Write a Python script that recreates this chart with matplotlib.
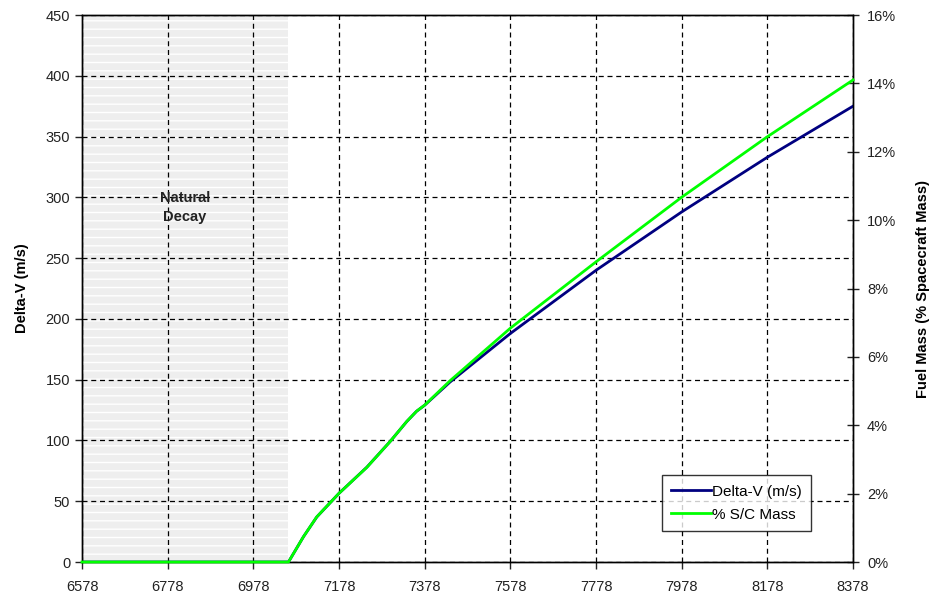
import matplotlib.pyplot as plt
import matplotlib.ticker as mticker

plt.rcParams['font.family'] = ['Liberation Sans', 'DejaVu Sans']
plt.rcParams['hatch.color'] = 'white'
plt.rcParams['hatch.linewidth'] = 1.0

# orbit altitude / radius (km) and required delta-V
radius = [6578, 6778, 6978, 7060, 7095, 7126, 7178, 7243, 7297, 7336, 7359, 7378,
          7437, 7578, 7778, 7978, 8178, 8378]
delta_v = [0, 0, 0, 0, 20.8, 37, 56.5, 78, 99, 115.5, 124, 129,
           148, 188, 240, 288, 333, 375]
# fuel as share of spacecraft mass (%)
fuel_pct = [0, 0, 0, 0, 0.74, 1.32, 2.01, 2.77, 3.52, 4.11, 4.41, 4.59,
            5.30, 6.84, 8.78, 10.67, 12.44, 14.1]

decay_end = 7060
xticks = [6578, 6778, 6978, 7178, 7378, 7578, 7778, 7978, 8178, 8378]

fig = plt.figure(figsize=(9.33, 5.98), dpi=100)
ax = fig.add_axes([0.0879, 0.0602, 0.8264, 0.9147])
ax2 = ax.twinx()

ax.axvspan(6578, decay_end, facecolor='#eeeeee', edgecolor='white',
           hatch='--', linewidth=0, zorder=0.5)

l1, = ax.plot(radius, delta_v, color='#000080', lw=2.0, label='Delta-V (m/s)', zorder=3)
l2, = ax2.plot(radius, fuel_pct, color='#00ff00', lw=2.0, label='% S/C Mass',
               clip_on=False, zorder=3)

ax.set_xlim(6578, 8378)
ax.set_ylim(0, 450)
ax2.set_ylim(0, 16)
ax.set_xticks(xticks)
ax.set_yticks(range(0, 451, 50))
ax2.set_yticks(range(0, 17, 2))
ax2.yaxis.set_major_formatter(mticker.FuncFormatter(lambda v, p: f'{v:.0f}%'))

ax.grid(True, color='black', linestyle=(0, (4, 3)), linewidth=0.9)

for a in (ax, ax2):
    a.tick_params(labelsize=10.5, colors='#222222', length=5, width=1)
    for s in a.spines.values():
        s.set_color('black')
        s.set_linewidth(1)
ax.tick_params(axis='x', pad=8)
ax2.tick_params(axis='y', direction='inout', length=8, pad=6)

ax.set_ylabel('Delta-V (m/s)', fontsize=10.5, fontweight='bold', labelpad=12)
ax2.set_ylabel('Fuel Mass (% Spacecraft Mass)', fontsize=10.5, fontweight='bold', labelpad=14)

ax.text(6818, 292, 'Natural\nDecay', ha='center', va='center', fontsize=10.5,
        fontweight='bold', color='#222222', linespacing=1.45)

leg = ax2.legend(handles=[l1, l2], loc='lower right', bbox_to_anchor=(0.9455, 0.0567),
                 fontsize=11, frameon=True, fancybox=False, handlelength=2.6,
                 handletextpad=0.1, borderpad=0.6, labelspacing=0.6, borderaxespad=0)
leg.get_frame().set_edgecolor('black')
leg.get_frame().set_linewidth(1)

fig.savefig('out.png', dpi=100)
